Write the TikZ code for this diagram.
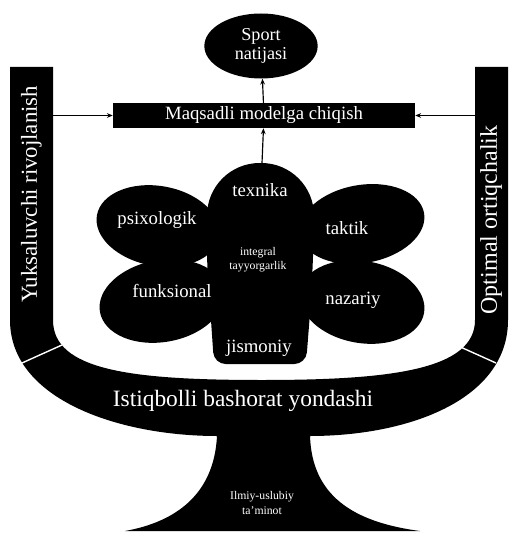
\documentclass[tikz,border=0pt]{standalone}
\usepackage{fontspec}
\setmainfont{Liberation Serif}
\usetikzlibrary{shapes.geometric, arrows.meta, positioning}

\begin{document}
\begin{tikzpicture}[
  x=0.03cm, y=-0.03cm,
  ink/.style={fill=black},
  boxlbl/.style={text=white, align=center, inner sep=1pt,
                 font=\fontsize{16}{16}\selectfont},
  barlbl/.style={text=white, rotate=90, inner sep=1pt,
                 font=\fontsize{19.5}{20}\selectfont},
  bandlbl/.style={text=white, inner sep=1pt, font=\fontsize{20}{20}\selectfont},
  petallbl/.style={text=white, inner sep=1pt, font=\fontsize{16}{16}\selectfont},
  smalllbl/.style={text=white, align=center, inner sep=1pt,
                   font=\fontsize{10}{12}\selectfont},
  arr/.style={-{Stealth[length=5pt, width=4pt]}, line width=1pt, black},
  sep/.style={white, line width=1.2pt},
]
\useasboundingbox (0,0) rectangle (517,537);

% U-shaped band with the pedestal
\fill[ink] (10,67) -- (10,320) .. controls (10,400) and (120,436) .. (217,436)
  .. controls (214,495) and (175,522) .. (125,531) -- (420,531)
  .. controls (352,522) and (312,495) .. (310,436)
  .. controls (408,436) and (508,400) .. (508,320) -- (508,67) -- (475,67)
  -- (475,320) .. controls (475,370) and (390,380) .. (262,380)
  .. controls (130,380) and (53,370) .. (53,320) -- (53,67) -- cycle;
\draw[sep] (22,363) -- (62,345);
\draw[sep] (496,363) -- (456,345);

% flower
\fill[ink, rotate around={-10:(158,226)}] (158,226) ellipse [x radius=62, y radius=40];
\fill[ink, rotate around={10:(362,224)}] (362,224) ellipse [x radius=63, y radius=39];
\fill[ink, rotate around={10:(162,301)}] (162,301) ellipse [x radius=63, y radius=41];
\fill[ink, rotate around={-10:(362,302)}] (362,302) ellipse [x radius=63, y radius=41];
\fill[ink] (207,262) [rounded corners=1.58cm] -- (207,163) -- (314,163)
  -- (314,262) [rounded corners=0.35cm] -- (306,364) -- (214,364) -- cycle;

\node[ellipse, ink, minimum width=3.4cm, minimum height=1.95cm, boxlbl,
  font=\fontsize{15.5}{16}\selectfont] (sport) at (261,46) {Sport\\natijasi};
\node[rectangle, ink, minimum width=9.06cm, minimum height=0.75cm, boxlbl] (maqsad)
  at (264,115.5) {Maqsadli modelga chiqish};

\node[barlbl] (rivoj) at (31.5,194) {Yuksaluvchi rivojlanish};
\node[barlbl, font=\fontsize{20.5}{21}\selectfont] (optimal) at (491,220)
  {Optimal ortiqchalik};
\node[bandlbl] (istiqbol) at (243,401) {Istiqbolli bashorat yondashi};
\node[smalllbl] (asos) at (262,503) {Ilmiy-uslubiy\\ta'minot};

\node[petallbl] (texnika) at (260,190) {texnika};
\node[petallbl] (psixo) at (157,220) {psixologik};
\node[petallbl] (taktik) at (347,228) {taktik};
\node[smalllbl] (integral) at (258,260) {integral\\tayyorgarlik};
\node[petallbl] (funk) at (172,291) {funksional};
\node[petallbl] (nazariy) at (353,300) {nazariy};
\node[petallbl] (jismoniy) at (259,348) {jismoniy};

\coordinate (lhook) at (53,115.5);
\coordinate (rhook) at (475,115.5);
\coordinate (flowertop) at (262,163);

\draw[arr] (lhook) -- (maqsad.west);
\draw[arr] (rhook) -- (maqsad.east);
\draw[arr] (flowertop) -- (maqsad);
\draw[arr] (maqsad) -- (sport);

\end{tikzpicture}
\end{document}
